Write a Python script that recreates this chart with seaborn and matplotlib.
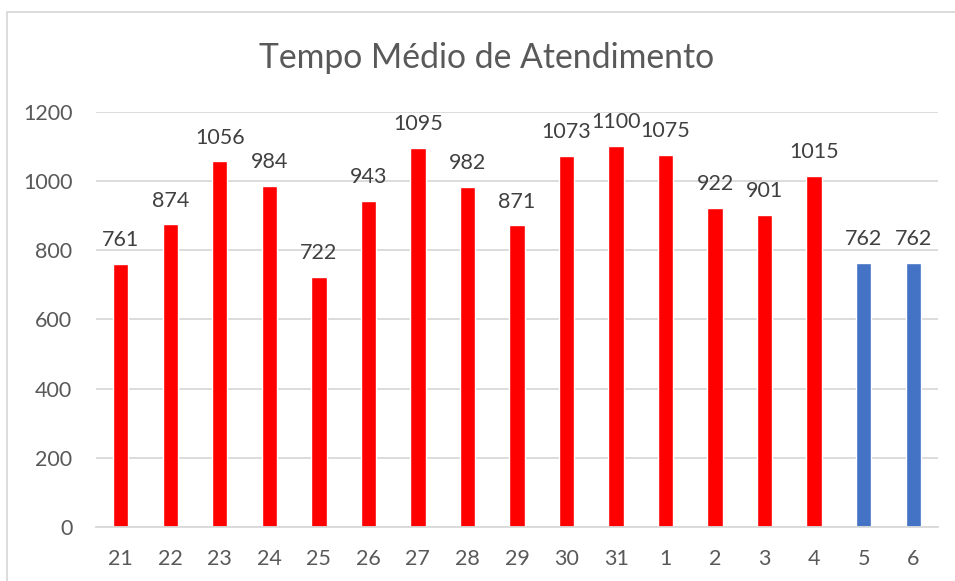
import pandas as pd
import seaborn as sns
import matplotlib.pyplot as plt
from matplotlib.patches import Rectangle

# dados
dias = ["21", "22", "23", "24", "25", "26", "27", "28", "29", "30", "31",
        "1", "2", "3", "4", "5", "6"]
tempo_medio = [761, 874, 1056, 984, 722, 943, 1095, 982, 871, 1073, 1100,
               1075, 922, 901, 1015, 762, 762]
grupo = ["real"] * 15 + ["prev"] * 2

df = pd.DataFrame({"dia": dias, "tempo": tempo_medio, "grupo": grupo})
cores = {"real": "#FF0000", "prev": "#4472C4"}

sns.set_style("white")
plt.rcParams["font.family"] = ["Lato", "DejaVu Sans"]

fig = plt.figure(figsize=(9.55, 5.81), dpi=100)
ax = fig.add_axes([0.1005, 0.0929, 0.8817, 0.7151])

sns.barplot(data=df, x="dia", y="tempo", hue="grupo", palette=cores,
            dodge=False, width=0.31, saturation=1, legend=False, ax=ax)

for c in ax.containers:
    ax.bar_label(c, padding=10, fontsize=15.5, color="#404040")

ax.set_ylim(0, 1200)
ax.set_yticks(range(0, 1201, 200))
ax.yaxis.grid(True, color="#D9D9D9", linewidth=1.3)
ax.set_axisbelow(True)
for s in ["top", "right", "left"]:
    ax.spines[s].set_visible(False)
ax.spines["bottom"].set_color("#D9D9D9")
ax.spines["bottom"].set_linewidth(1.3)
ax.tick_params(axis="both", length=0, labelsize=15.5, colors="#595959")
ax.tick_params(axis="x", pad=16)
ax.tick_params(axis="y", pad=17)
ax.set_xlabel("")
ax.set_ylabel("")

fig.text(0.509, 0.9, "Tempo Médio de Atendimento", ha="center", va="center",
         fontsize=24.3, color="#595959")

# moldura da área do gráfico
fig.patches.append(Rectangle((7 / 955, -0.1), 1.2, (581 - 12) / 581 + 0.1,
                             transform=fig.transFigure, fill=False,
                             edgecolor="#D9D9D9", linewidth=1.3))

fig.savefig("out.png", dpi=100)
